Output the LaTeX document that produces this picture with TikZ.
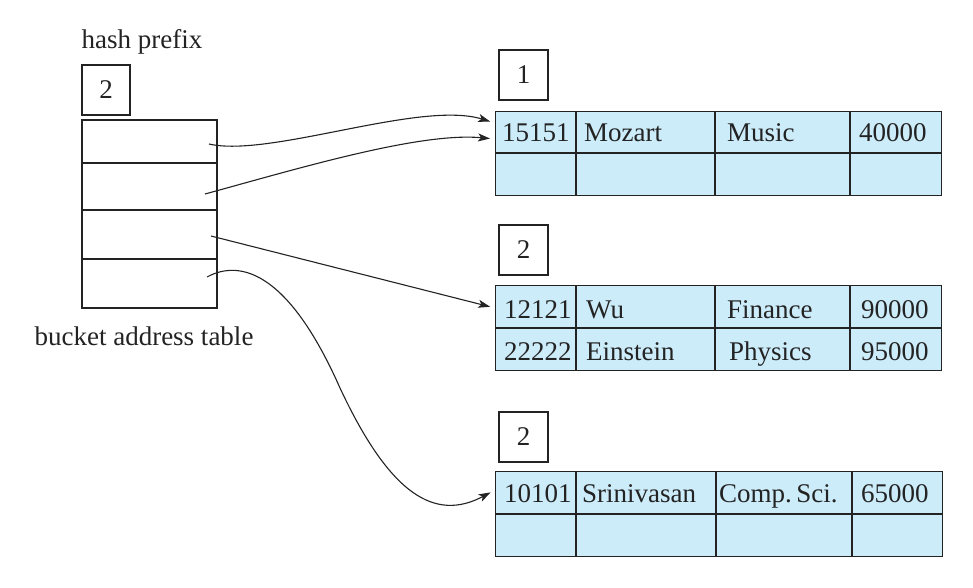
\documentclass[tikz,border=0pt]{standalone}
\usepackage{fontspec}
\setmainfont{Liberation Serif}
\usetikzlibrary{arrows.meta}
\definecolor{cellblue}{RGB}{204,236,250}
\definecolor{ink}{RGB}{35,35,35}
\begin{document}
\begin{tikzpicture}[x=1pt,y=-1pt,
  box/.style={draw=ink,line width=1.3pt,inner sep=0pt},
  rule/.style={draw=ink,line width=1.3pt},
  lbl/.style={font=\fontsize{27}{27}\selectfont,inner sep=0pt,text=ink},
  cell/.style={lbl,anchor=base west},
  ptr/.style={draw=ink,line width=1.1pt,-{Stealth[length=12pt,width=8pt,inset=3pt]},shorten >=5pt}]
\useasboundingbox (0,0) rectangle (973,587);
\fill[white] (0,0) rectangle (973,587);

% directory
\node[lbl] (hp) at (142,42) {hash prefix};
\node[box,lbl,minimum width=48pt,minimum height=50pt] (gd) at (106,90) {2};
\node[box,minimum width=135pt,minimum height=188pt] (dir) at (149.5,214) {};
\draw[rule] (82,163) -- (217,163);
\draw[rule] (82,210) -- (217,210);
\draw[rule] (82,259) -- (217,259);
\node[lbl] (bat) at (144,336) {bucket address table};
\coordinate (r1) at (209,144);
\coordinate (r2) at (205,194);
\coordinate (r3) at (211,236);
\coordinate (r4) at (207,277);

% bucket 1
\node[box,lbl,minimum width=49pt,minimum height=50pt] (l1) at (523.5,75) {1};
\node[box,fill=cellblue,minimum width=446pt,minimum height=84pt,anchor=north west] (b1) at (495,111) {};
\draw[rule] (495,153) -- (941,153);
\draw[rule] (576,111) -- (576,195);
\draw[rule] (715,111) -- (715,195);
\draw[rule] (850,111) -- (850,195);
\node[cell] (b1a) at (502,141) {15151};
\node[cell] (b1b) at (584,141) {Mozart};
\node[cell] (b1c) at (727,141) {Music};
\node[cell] (b1d) at (859,141) {40000};

% bucket 2
\node[box,lbl,minimum width=49pt,minimum height=50pt] (l2) at (523.5,250) {2};
\node[box,fill=cellblue,minimum width=446pt,minimum height=85pt,anchor=north west] (b2) at (495,285) {};
\draw[rule] (495,328) -- (941,328);
\draw[rule] (576,285) -- (576,370);
\draw[rule] (715,285) -- (715,370);
\draw[rule] (850,285) -- (850,370);
\node[cell] (b2a) at (504,318) {12121};
\node[cell] (b2b) at (586,318) {Wu};
\node[cell] (b2c) at (727,318) {Finance};
\node[cell] (b2d) at (861,318) {90000};
\node[cell] (b2e) at (504,360) {22222};
\node[cell] (b2f) at (586,360) {Einstein};
\node[cell] (b2g) at (729,360) {Physics};
\node[cell] (b2h) at (861,360) {95000};

% bucket 3
\node[box,lbl,minimum width=49pt,minimum height=50pt] (l3) at (523.5,437) {2};
\node[box,fill=cellblue,minimum width=447pt,minimum height=85pt,anchor=north west] (b3) at (495,471) {};
\draw[rule] (495,514) -- (942,514);
\draw[rule] (576,471) -- (576,556);
\draw[rule] (716,471) -- (716,556);
\draw[rule] (852,471) -- (852,556);
\node[cell] (b3a) at (504,502) {10101};
\node[cell] (b3b) at (582,502) {Srinivasan};
\node[cell] (b3c) at (719,502) {Comp.\,Sci.};
\node[cell] (b3d) at (861,502) {65000};

% pointers
\draw[ptr] (r1) .. controls (270,158) and (420,100) .. (b1.west |- 0,123);
\draw[ptr] (r2) .. controls (300,168) and (420,132) .. (b1.west |- 0,139);
\draw[ptr] (r3) -- (b2.west |- 0,308);
\draw[ptr] (r4) .. controls (242,258) and (290,275) .. (340,388)
              .. controls (390,495) and (435,522) .. (b3.west |- 0,490);
\end{tikzpicture}
\end{document}
